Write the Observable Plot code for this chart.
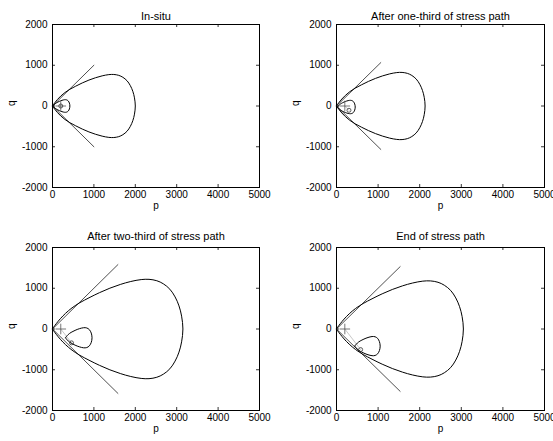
<!DOCTYPE html>
<html>
<head>
<meta charset="utf-8">
<script src="https://cdn.jsdelivr.net/npm/d3@7"></script>
<script src="https://cdn.jsdelivr.net/npm/@observablehq/plot@0.6"></script>
<style>
  html, body { margin: 0; padding: 0; background: #fff; }
  #root { position: relative; width: 553px; height: 441px; overflow: hidden; background: #fff; }
  #root > div { position: absolute; }
  svg { display: block; }
</style>
</head>
<body>
<div id="root"></div>
<script>
// ---- data ----
const titles = ["In-situ", "After one-third of stress path", "After two-third of stress path", "End of stress path"];
const xTicks = [0, 1000, 2000, 3000, 4000, 5000];
const yTicks = [-2000, -1000, 0, 1000, 2000];

// normalised upper half of the teardrop yield surface (p/size, q/size)
const shapeP = [0, 0.01, 0.03, 0.06, 0.10, 0.15, 0.21, 0.28, 0.36, 0.44, 0.52, 0.60, 0.68, 0.74, 0.80, 0.85, 0.90, 0.94, 0.97, 0.99, 1.0];
const shapeQ = [0, 0.016, 0.043, 0.080, 0.122, 0.165, 0.205, 0.243, 0.283, 0.318, 0.347, 0.370, 0.385, 0.387, 0.376, 0.352, 0.310, 0.250, 0.180, 0.100, 0];

// per panel
const outerSize = [2000, 2130, 3150, 3050];
const cslEnd = [1000, 1065, 1580, 1530];
const innerApexP = [20, 25, 315, 440];
const innerApexQ = [0, -25, -215, -420];
const innerSize = [400, 425, 640, 610];
const initP = [200, 200, 200, 200];
const initQ = [0, 0, 0, 0];
const curP = [200, 300, 460, 580];
const curQ = [0, -105, -340, -505];

// ---- layout ----
const panels = [
  {left: 0,   top: 0,   width: 276, height: 220, mL: 52, mR: 17, mT: 24, mB: 33},
  {left: 276, top: 0,   width: 277, height: 220, mL: 60, mR: 9,  mT: 24, mB: 33},
  {left: 0,   top: 220, width: 276, height: 221, mL: 52, mR: 17, mT: 27, mB: 31},
  {left: 276, top: 220, width: 277, height: 221, mL: 60, mR: 9,  mT: 27, mB: 31}
];

function loop(p0, q0, s) {
  const up = shapeP.map((u, j) => ({p: p0 + u * s, q: q0 + shapeQ[j] * s}));
  const down = shapeP.map((u, j) => ({p: p0 + u * s, q: q0 - shapeQ[j] * s})).reverse().slice(1);
  return up.concat(down);
}

const font = "'Liberation Sans', Arial, Helvetica, sans-serif";
const root = document.getElementById("root");

panels.forEach((L, i) => {
  const fw = L.width - L.mL - L.mR;
  const fh = L.height - L.mT - L.mB;
  const tk = 3;
  const outer = loop(0, 0, outerSize[i]);
  const inner = loop(innerApexP[i], innerApexQ[i], innerSize[i]);
  const cslUp = [{p: 0, q: 0}, {p: cslEnd[i], q: cslEnd[i]}];
  const cslDn = [{p: 0, q: 0}, {p: cslEnd[i], q: -cslEnd[i]}];
  const path = [{p: initP[i], q: initQ[i]}, {p: curP[i], q: curQ[i]}];

  const chart = Plot.plot({
    width: L.width,
    height: L.height,
    marginLeft: L.mL,
    marginRight: L.mR,
    marginTop: L.mT,
    marginBottom: L.mB,
    x: {domain: [0, 5000]},
    y: {domain: [-2000, 2000]},
    style: {fontFamily: font, fontSize: "10px", background: "transparent", color: "black", overflow: "visible"},
    marks: [
      // inward ticks on all four sides
      Plot.tickX(xTicks, {x: d => d, insetTop: fh - tk, stroke: "black", strokeWidth: 0.8}),
      Plot.tickX(xTicks, {x: d => d, insetBottom: fh - tk, stroke: "black", strokeWidth: 0.8}),
      Plot.tickY(yTicks, {y: d => d, insetRight: fw - tk, stroke: "black", strokeWidth: 0.8}),
      Plot.tickY(yTicks, {y: d => d, insetLeft: fw - tk, stroke: "black", strokeWidth: 0.8}),
      Plot.axisX({ticks: xTicks, tickSize: 0, tickPadding: 3, tickFormat: d => String(d), label: null, fontSize: 10}),
      Plot.axisY({ticks: yTicks, tickSize: 0, tickPadding: 5, tickFormat: d => String(d), label: null, fontSize: 10}),
      // stress path (light grey)
      Plot.line(path, {x: "p", y: "q", stroke: "#c8c8c8", strokeWidth: 1}),
      // critical state lines
      Plot.line(cslUp, {x: "p", y: "q", stroke: "#222", strokeWidth: 0.8}),
      Plot.line(cslDn, {x: "p", y: "q", stroke: "#222", strokeWidth: 0.8}),
      // yield surfaces
      Plot.line(outer, {x: "p", y: "q", stroke: "black", strokeWidth: 1, curve: "catmull-rom"}),
      Plot.line(inner, {x: "p", y: "q", stroke: "black", strokeWidth: 1, curve: "catmull-rom"}),
      // markers
      Plot.dot([{p: initP[i], q: initQ[i]}], {x: "p", y: "q", symbol: "plus", r: 3.5, stroke: "#555", strokeWidth: 0.8}),
      Plot.dot([{p: curP[i], q: curQ[i]}], {x: "p", y: "q", symbol: "circle", r: 2, stroke: "#333", fill: "none", strokeWidth: 0.8}),
      Plot.frame({stroke: "black", strokeWidth: 1}),
      // title and axis labels
      Plot.text([titles[i]], {frameAnchor: "top", dy: -L.mT + 12, fontSize: 11, fill: "black"}),
      Plot.text(["p"], {frameAnchor: "bottom", dy: 21, fontSize: 10, fill: "black"}),
      Plot.text(["q"], {frameAnchor: "left", dx: -41, rotate: -90, fontSize: 10, fill: "black"})
    ]
  });
  const holder = document.createElement("div");
  holder.style.left = L.left + "px";
  holder.style.top = L.top + "px";
  holder.style.width = L.width + "px";
  holder.style.height = L.height + "px";
  holder.appendChild(chart);
  root.appendChild(holder);
});
</script>
</body>
</html>
